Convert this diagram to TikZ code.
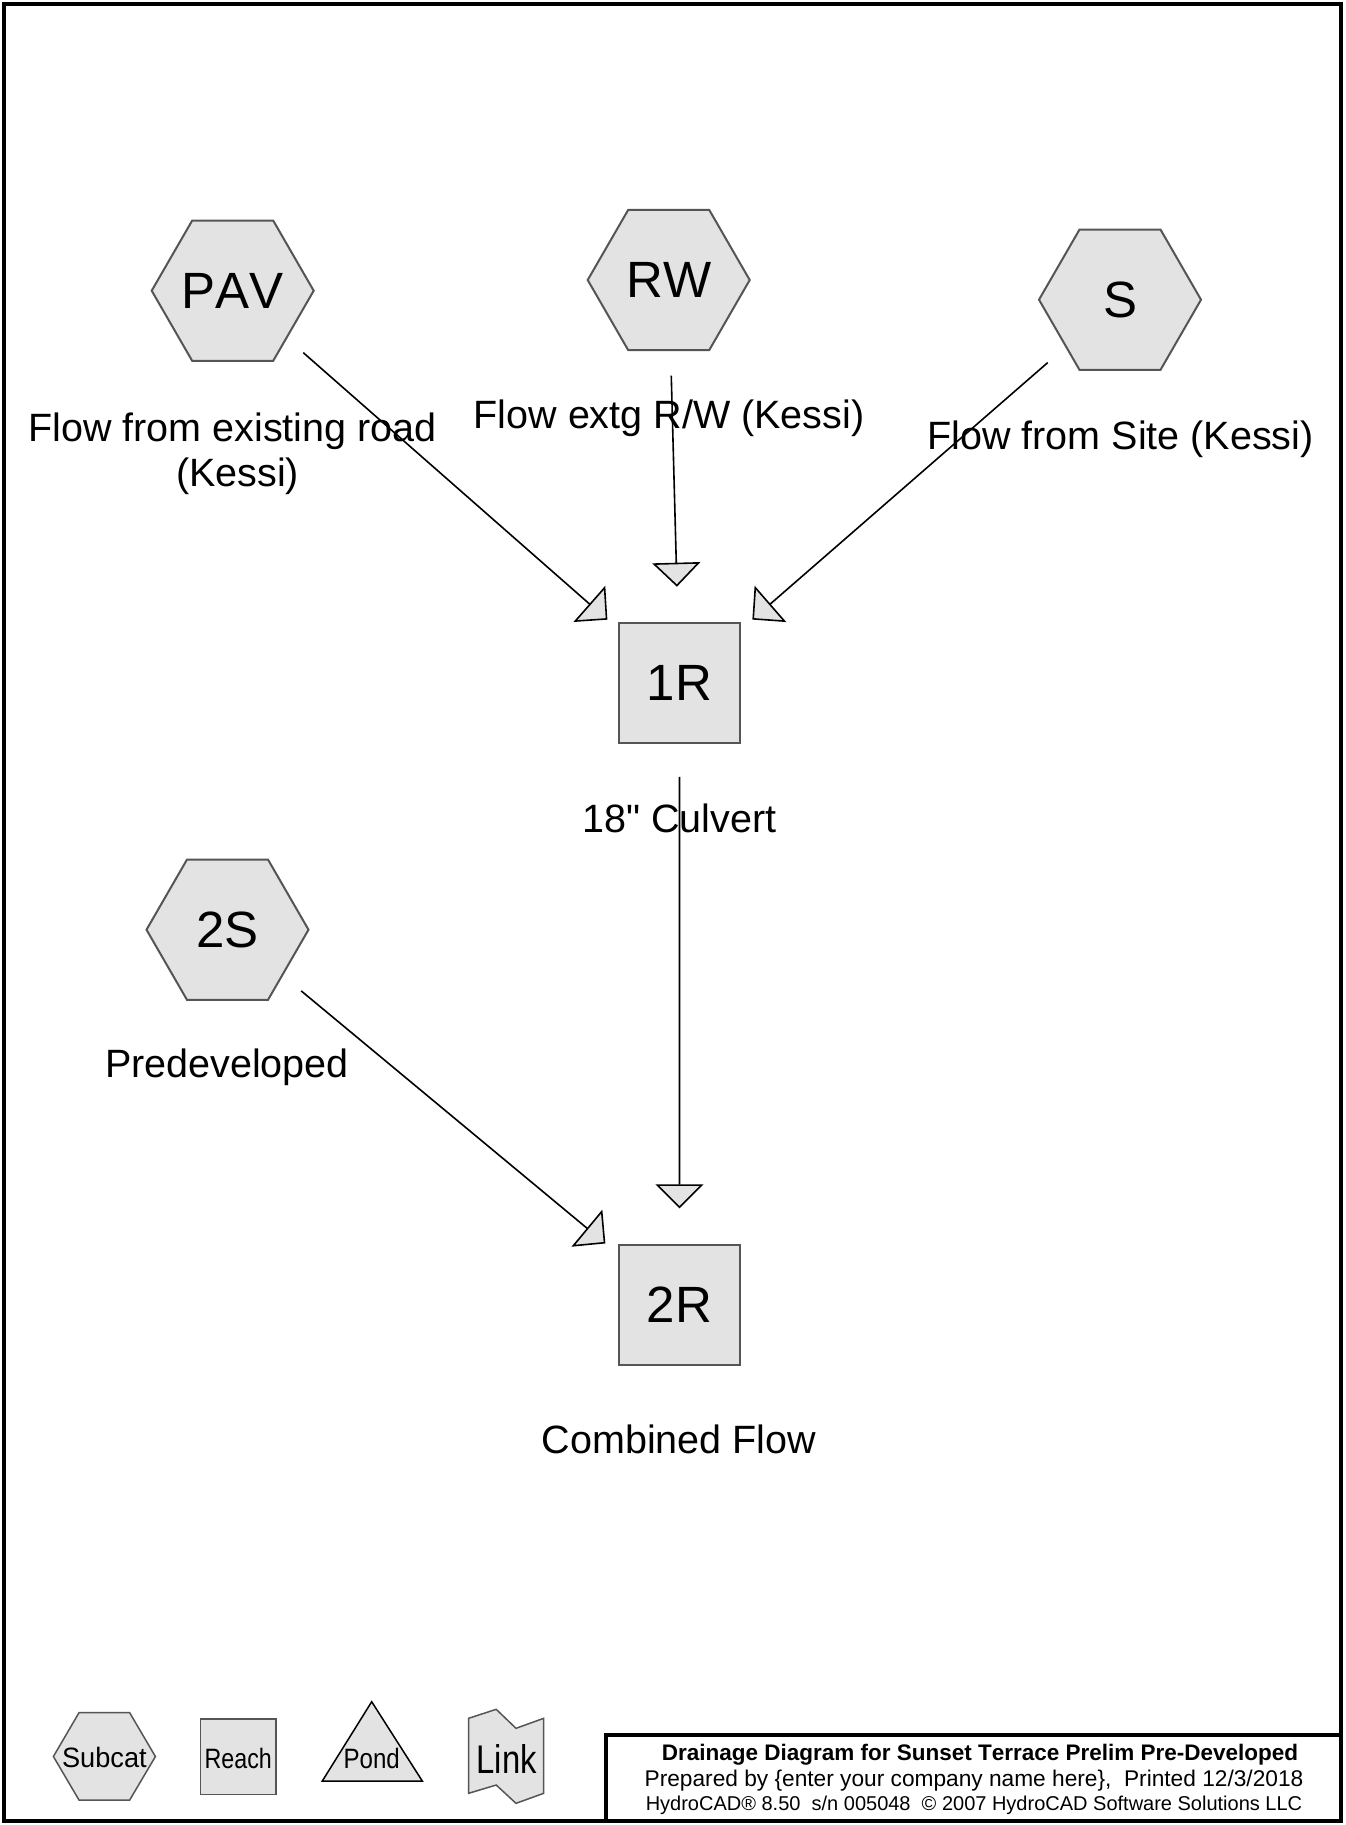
\documentclass[tikz,border=0pt]{standalone}
\usepackage{fontspec}
\setmainfont{Liberation Sans}[Kerning=Off]
\newfontfamily\plainsans{Liberation Sans}[Kerning=Off]
\usetikzlibrary{arrows.meta,calc,shapes.geometric}
\definecolor{nodefill}{HTML}{E3E3E3}
\definecolor{nodeedge}{HTML}{555555}
\begin{document}
\begin{tikzpicture}[x=1pt,y=-1pt,
  hexnode/.style={regular polygon, regular polygon sides=6, minimum size=162pt, inner sep=0pt,
    fill=nodefill, draw=nodeedge, line width=2pt, font=\fontsize{51}{51}\selectfont},
  reachnode/.style={rectangle, minimum width=121pt, minimum height=120pt, inner sep=0pt,
    fill=nodefill, draw=nodeedge, line width=2pt, font=\fontsize{51}{51}\selectfont},
  lbl/.style={inner sep=0pt, anchor=base, font=\fontsize{39.5}{45.5}\selectfont},
  flow/.style={line width=1.6pt, draw=black, -{Triangle[length=24pt,width=48pt,fill=nodefill]}},
  legshape/.style={fill=nodefill, draw=nodeedge, line width=1.5pt, line join=miter},
  legtxt/.style={inner sep=0pt, font=\fontsize{28}{28}\selectfont},
  frame/.style={line width=4.5pt, draw=black},
  titletxt/.style={inner sep=0pt, anchor=base}
]
\useasboundingbox (0,0) rectangle (1345,1825);
\fill[white] (0,0) rectangle (1345,1825);
\draw[frame] (4,4) rectangle (1341,1821);

% nodes
\node[hexnode] (PAV) at (232.7,290.7) {\makebox[0pt]{PAV}};
\node[hexnode] (RW) at (668.7,280) {\makebox[0pt]{RW}};
\node[hexnode] (S) at (1120,299.7) {\makebox[0pt]{S}};
\node[hexnode] (2S) at (227.5,929.7) {\makebox[0pt]{2S}};
\node[reachnode] (1R) at (679.5,683) {1R};
\node[reachnode] (2R) at (679.5,1305) {2R};

% labels
\node[lbl] (PAVl1) at (232.5,441.5) {Flow from existing road};
\node[lbl] (PAVl2) at (237.5,486) {(Kessi)};
\node[lbl] (RWl) at (669,428.3) {Flow extg R/W (Kessi)};
\node[lbl] (Sl) at (1120.5,449) {Flow from Site (Kessi)};
\node[lbl] (1Rl) at (679.5,832) {18{\plainsans"} Culvert};
\node[lbl] (2Sl) at (227,1077.5) {Predeveloped};
\node[lbl] (2Rl) at (679,1453) {Combined Flow};

% connectors
\draw[flow] ($(PAV)!0.158!(1R)$) -- ($(PAV)!0.8386!(1R)$);
\draw[flow] ($(RW)!0.2375!(1R)$) -- ($(RW)!0.761!(1R)$);
\draw[flow] ($(S)!0.164!(1R)$) -- ($(S)!0.8346!(1R)$);
\draw[flow] ($(1R)!0.151!(2R)$) -- ($(1R)!0.8445!(2R)$);
\draw[flow] ($(2S)!0.163!(2R)$) -- ($(2S)!0.836!(2R)$);

% legend
\draw[legshape] (53.4,1756.5) -- (79,1712.7) -- (129.7,1712.7) -- (155.4,1756.5) -- (129.7,1800) -- (79,1800) -- cycle;
\node[legtxt] (legS) at (104.4,1757) {\scalebox{0.97}[1]{Subcat}};
\draw[legshape] (200.5,1719) rectangle (276,1794.3);
\node[legtxt] (legR) at (238.3,1758) {\scalebox{0.83}[1]{Reach}};
\draw[legshape, draw=black] (371.7,1701.7) -- (322.3,1781) -- (422.3,1781) -- cycle;
\node[legtxt] (legP) at (371.7,1758) {\scalebox{0.86}[1]{Pond}};
\draw[legshape] (468.6,1718.3) -- (496.2,1709.3) -- (516,1728.3) -- (543.7,1718.3) -- (543.7,1793.3) -- (516,1803.3) -- (496.2,1785) -- (468.6,1793.3) -- cycle;
\node[legtxt, font=\fontsize{40}{40}\selectfont] (legL) at (506.8,1759) {\scalebox{0.82}[1]{Link}};

% title block
\draw[frame] (606,1821) -- (606,1735) -- (1341,1735);
\node[titletxt, font=\bfseries\fontsize{22.5}{22.5}\selectfont] (t1) at (980,1760) {Drainage Diagram for Sunset Terrace Prelim Pre-Developed};
\node[titletxt, font=\fontsize{22.7}{22.7}\selectfont] (t2) at (974,1786) {Prepared by \{enter your company name here\},\ \ Printed 12/3/2018};
\node[titletxt, font=\fontsize{20}{20}\selectfont] (t3) at (974,1810.5) {HydroCAD® 8.50\ \ s/n 005048\ \ © 2007 HydroCAD Software Solutions LLC};
\end{tikzpicture}
\end{document}
